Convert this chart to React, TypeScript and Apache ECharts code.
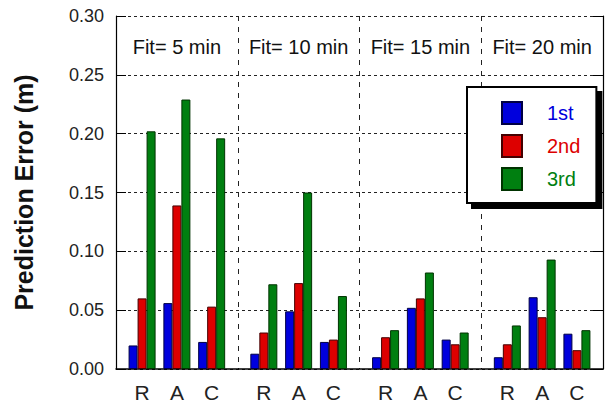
import React, { useEffect, useRef } from "react";
import * as echarts from "echarts";

const groups = ["Fit= 5 min", "Fit= 10 min", "Fit= 15 min", "Fit= 20 min"];
const methods = ["R", "A", "C"];
const seriesNames = ["1st", "2nd", "3rd"];
// values per group in order R, A, C
const first = [0.020, 0.056, 0.023, 0.013, 0.049, 0.023, 0.010, 0.052, 0.025, 0.010, 0.061, 0.030];
const second = [0.060, 0.139, 0.053, 0.031, 0.073, 0.025, 0.027, 0.060, 0.021, 0.021, 0.044, 0.016];
const third = [0.202, 0.229, 0.196, 0.072, 0.150, 0.062, 0.033, 0.082, 0.031, 0.037, 0.093, 0.033];
const yTicks = [0, 0.05, 0.1, 0.15, 0.2, 0.25, 0.3];
const colors = ["#0000dd", "#dd0000", "#007f10"];
const borderColors = ["#000044", "#440000", "#003300"];

const SLOTS = 7;

export default function App() {
  const ref = useRef<HTMLDivElement>(null);
  useEffect(() => {
    if (!ref.current) return;
    const chart = echarts.init(ref.current, null, { renderer: "svg" });
    const cats: string[] = [];
    const slotOf = (g: number, m: number) => g * SLOTS + 1 + 2 * m;
    for (let g = 0; g < groups.length; g++) {
      for (let s = 0; s < SLOTS; s++) cats.push("");
      methods.forEach((m, mi) => (cats[slotOf(g, mi)] = m));
    }
    const pad = (vals: number[]) => {
      const out: (number | null)[] = cats.map(() => null);
      vals.forEach((v, i) => {
        out[slotOf(Math.floor(i / 3), i % 3)] = v;
      });
      return out;
    };
    const allVals = [first, second, third];
    const font = "Liberation Sans, Arial, sans-serif";
    chart.setOption({
      animation: false,
      textStyle: { fontFamily: font },
      grid: { left: 116, right: 2, top: 16, bottom: 39 },
      legend: {
        orient: "vertical",
        left: 467,
        top: 87,
        itemWidth: 20,
        itemHeight: 22,
        itemGap: 9,
        padding: [14, 16, 12, 34],
        backgroundColor: "#ffffff",
        borderColor: "#000",
        borderWidth: 2,
        shadowColor: "#000",
        shadowBlur: 0,
        shadowOffsetX: 5,
        shadowOffsetY: 5,
        icon: "rect",
        data: seriesNames.map((n, i) => ({
          name: n,
          textStyle: { color: colors[i] },
        })),
        textStyle: { fontSize: 20, fontFamily: font, padding: [0, 0, 0, 20] },
      },
      xAxis: [
        {
          type: "category",
          data: cats,
          position: "bottom",
          axisLine: { lineStyle: { color: "#000", width: 1.5 } },
          axisTick: { show: false },
          axisLabel: { interval: 0, fontSize: 21, color: "#222", margin: 13 },
          splitLine: { show: false },
        },
        {
          type: "category",
          data: groups,
          position: "top",
          axisLine: { show: false },
          axisTick: { show: false, interval: 0 },
          axisLabel: { inside: true, interval: 0, fontSize: 20, color: "#111", margin: 21 },
          splitLine: {
            show: true,
            interval: 0,
            showMinLine: false,
            showMaxLine: false,
            lineStyle: { color: "#222", type: [5, 6], width: 1 },
          },
        },
      ],
      yAxis: [
        {
          type: "value",
          min: 0,
          max: 0.3,
          interval: 0.05,
          position: "left",
          name: "Prediction Error (m)",
          nameLocation: "middle",
          nameGap: 80,
          nameTextStyle: { fontSize: 25, fontWeight: "bold", color: "#111", fontFamily: font },
          axisLine: { show: true, lineStyle: { color: "#000", width: 1.2 } },
          axisTick: { show: true, inside: true, length: 10, lineStyle: { color: "#000" } },
          axisLabel: {
            fontSize: 18,
            color: "#222",
            margin: 12,
            formatter: (v: number) => (yTicks.some((t) => Math.abs(t - v) < 1e-9) ? v.toFixed(2) : ""),
          },
          splitLine: { show: true, lineStyle: { color: "#222", type: [3, 3], width: 1 } },
        },
        {
          type: "value",
          min: 0,
          max: 0.3,
          interval: 0.05,
          position: "right",
          axisLine: { show: true, lineStyle: { color: "#000", width: 1.2 } },
          axisTick: { show: true, inside: true, length: 10, lineStyle: { color: "#000" } },
          axisLabel: { show: false },
          splitLine: { show: false },
        },
      ],
      series: seriesNames.map((n, i) => ({
        name: n,
        type: "bar",
        xAxisIndex: 0,
        yAxisIndex: 0,
        data: pad(allVals[i]),
        barWidth: 9,
        barGap: "0%",
        itemStyle: { color: colors[i], borderColor: borderColors[i], borderWidth: 1 },
      })),
    });
    return () => chart.dispose();
  }, []);
  return (
    <div
      ref={ref}
      style={{ position: "fixed", left: 0, top: 0, width: 605, height: 408, background: "#fff" }}
    />
  );
}
